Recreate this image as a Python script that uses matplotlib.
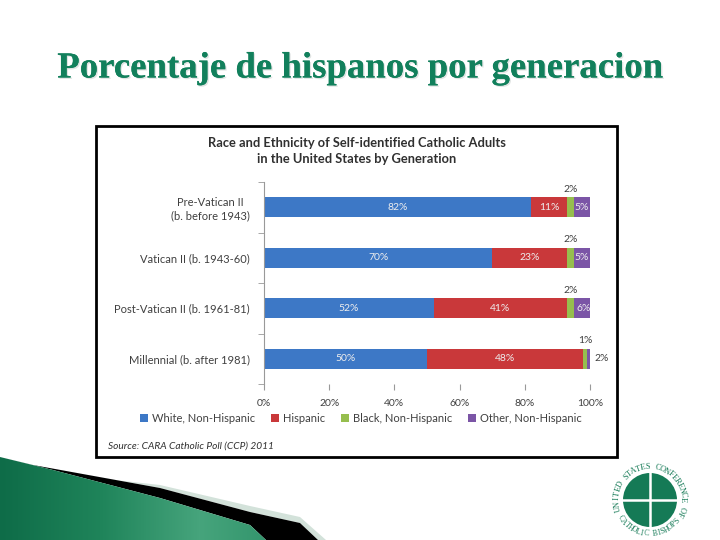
import matplotlib
import matplotlib.pyplot as plt
import numpy as np
from matplotlib import patheffects
from matplotlib.patches import Circle, Polygon, Rectangle

matplotlib.use('Agg')

# data
generations = ['Pre-Vatican II\n(b. before 1943)', 'Vatican II (b. 1943-60)',
               'Post-Vatican II (b. 1961-81)', 'Millennial (b. after 1981)']
groups = ['White, Non-Hispanic', 'Hispanic', 'Black, Non-Hispanic', 'Other, Non-Hispanic']
white = [82, 70, 52, 50]
hispanic = [11, 23, 41, 48]
black = [2, 2, 2, 1]
other = [5, 5, 6, 2]
x_ticks = [0, 20, 40, 60, 80, 100]

colors = ['#3D78C6', '#C9383A', '#96BE4E', '#7B55A6']
text_dark = '#404040'
green = '#12805C'
logo_green = '#157A56'

fig = plt.figure(figsize=(7.2, 5.4), dpi=100)

# slide layer in pixel coordinates
deco = fig.add_axes([0, 0, 1, 1])

title = deco.text(360, 68, 'Porcentaje de hispanos por generacion', ha='center', va='center',
                  fontsize=26.5, fontweight='bold', family='Liberation Serif', color=green)
title.set_path_effects([patheffects.withSimplePatchShadow(offset=(1, -1), alpha=0.12),
                        patheffects.Normal()])

deco.add_patch(Rectangle((96, 126), 521, 331, fill=False, lw=2, ec='black'))

# bottom-left swoosh
green_top = [(0, 457), (53, 470), (160, 498), (250, 525), (266, 540)]
black_top = [(33, 465), (160, 488), (250, 512), (300, 523), (318, 540)]
light_top = [(115, 480), (160, 485), (250, 506), (300, 517), (326, 540)]
deco.add_patch(Polygon(light_top + black_top[::-1], closed=True, fc='#D3E2DA', ec='none'))
deco.add_patch(Polygon(black_top + green_top[::-1] + [(0, 457)], closed=True, fc='black', ec='none'))
grad = np.linspace(0, 1, 300)[None, :]
im = deco.imshow(np.vstack([grad, grad]), extent=(0, 300, 540, 450), aspect='auto',
                 cmap=matplotlib.colors.LinearSegmentedColormap.from_list(
                     'g', ['#0E6C48', '#1F845A', '#46A47C', '#2B8F66']), zorder=1)
im.set_clip_path(Polygon(green_top + [(0, 540)], closed=True, transform=deco.transData))

# logo
cx, cy = 650, 500
deco.add_patch(Circle((cx, cy), 27, fc=logo_green, ec='none'))
deco.plot([cx, cx], [cy - 27, cy + 27], color='white', lw=1.8)
deco.plot([cx - 27, cx + 27], [cy, cy], color='white', lw=1.8)
top_txt = 'UNITED STATES CONFERENCE OF'
for i, ch in enumerate(top_txt):
    a = np.radians(195 - i * 220 / (len(top_txt) - 1))
    deco.text(cx + 33 * np.cos(a), cy - 33 * np.sin(a), ch, ha='center', va='center',
              rotation=np.degrees(a) - 90, fontsize=6, family='Liberation Serif', color=logo_green)
bot_txt = 'CATHOLIC BISHOPS'
for i, ch in enumerate(bot_txt):
    a = np.radians(212 + i * 110 / (len(bot_txt) - 1))
    deco.text(cx + 34 * np.cos(a), cy - 34 * np.sin(a), ch, ha='center', va='center',
              rotation=np.degrees(a) + 90, fontsize=5.5, family='Liberation Serif', color=logo_green)

deco.set_xlim(0, 720)
deco.set_ylim(540, 0)
deco.axis('off')

# chart
ax = fig.add_axes([264 / 720, 1 - 384 / 540, 326 / 720, 202 / 540])
y = np.arange(len(generations))
series = [white, hispanic, black, other]
left = np.zeros(len(generations))
for vals, col, name in zip(series, colors, groups):
    ax.barh(y, vals, left=left, height=0.4, color=col, label=name)
    left = left + np.array(vals)

starts = np.cumsum([np.zeros(4)] + [np.array(s) for s in series[:-1]], axis=0)
for j in range(len(generations)):
    for k, vals in enumerate(series):
        v = vals[j]
        c = starts[k][j] + v / 2
        if k == 2:
            ax.text(c, y[j] - 0.36, f'{v}%', ha='center', va='center', fontsize=7.5,
                    color=text_dark, family='Lato')
        elif v >= 5:
            ax.text(c, y[j], f'{v}%', ha='center', va='center', fontsize=7.5,
                    color='#EEEEEE', family='Lato')
        else:
            ax.text(103.5, y[j], f'{v}%', ha='center', va='center', fontsize=7.5,
                    color=text_dark, family='Lato', clip_on=False)

ax.set_xlim(0, 100)
ax.set_ylim(3.5, -0.5)
ax.set_xticks(x_ticks)
ax.set_xticklabels([f'{v}%' for v in x_ticks], fontsize=7.5, color=text_dark, family='Lato')
ax.set_yticks(y)
ax.set_yticklabels(generations, fontsize=8, color=text_dark, family='Lato', multialignment='center')
ax.set_yticks(np.arange(-0.5, 4, 1), minor=True)
ax.tick_params(axis='y', which='major', length=0, pad=10)
ax.tick_params(axis='y', which='minor', length=4, color='#999999')
ax.tick_params(axis='x', length=4, color='#999999', pad=7)
for s in ['top', 'right', 'bottom']:
    ax.spines[s].set_visible(False)
ax.spines['left'].set_color('#999999')

fig.text(357 / 720, 1 - 151 / 540,
         'Race and Ethnicity of Self-identified Catholic Adults\nin the United States by Generation',
         ha='center', va='center', fontsize=9.3, fontweight='bold', color='#303030',
         family='Lato', linespacing=1.4)

fig.legend(loc='center', bbox_to_anchor=(361 / 720, 1 - 418 / 540), ncol=4, frameon=False,
           prop={'family': 'Lato', 'size': 8}, handlelength=0.7, handleheight=0.7,
           handletextpad=0.4, columnspacing=1.4, labelcolor=text_dark)

fig.text(108 / 720, 1 - 446 / 540, 'Source: CARA Catholic Poll (CCP) 2011', ha='left', va='center',
         fontsize=7.3, style='italic', color='#303030', family='Lato')

fig.savefig('out.png', dpi=100)
